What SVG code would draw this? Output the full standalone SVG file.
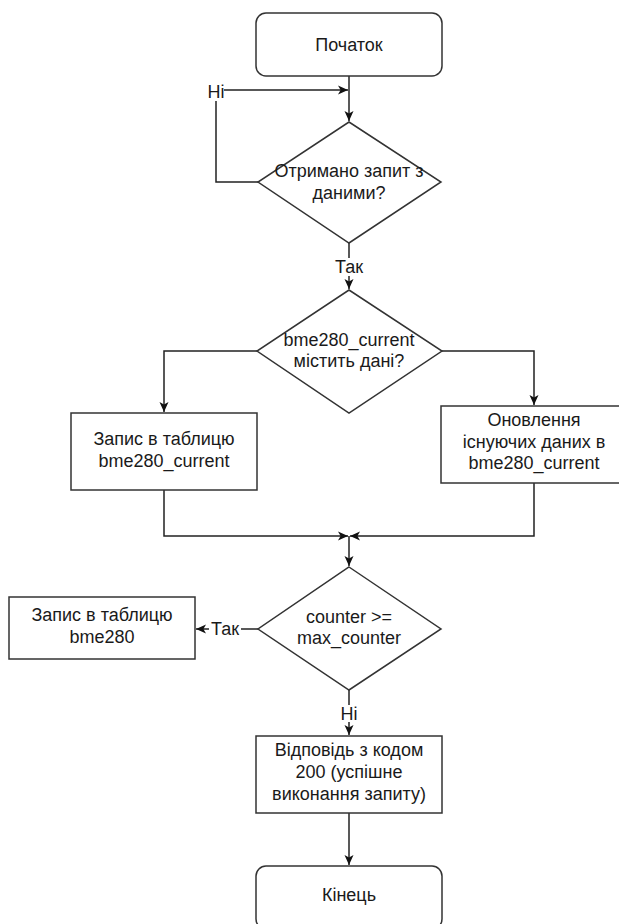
<svg xmlns="http://www.w3.org/2000/svg" width="619" height="924" viewBox="0 0 619 924">
<style>
  .shape { fill: #ffffff; stroke: #333333; stroke-width: 1.5; }
  .edge { fill: none; stroke: #222222; stroke-width: 1.5; }
  text { font-family: "Liberation Sans", Arial, sans-serif; font-size: 18px; fill: #1a1a1a; text-anchor: middle; }
  .lblbg { fill: #ffffff; stroke: none; }
</style>
<defs>
  <marker id="arr" markerUnits="userSpaceOnUse" markerWidth="11" markerHeight="10" refX="10" refY="5" orient="auto">
    <path d="M0,0.5 L10,5 L0,9.5 L2.6,5 Z" fill="#111111"/>
  </marker>
</defs>
<rect width="619" height="924" fill="#ffffff"/>

<g id="connectors">
  <path class="edge" d="M349,76 V121" marker-end="url(#arr)"/>
  <path class="edge" d="M258,182 H216 V90 H348" marker-end="url(#arr)"/>
  <path class="edge" d="M349,243 V289" marker-end="url(#arr)"/>
  <path class="edge" d="M257,351 H164 V412" marker-end="url(#arr)"/>
  <path class="edge" d="M442,351 H534 V405" marker-end="url(#arr)"/>
  <path class="edge" d="M164,490 V536 H348" marker-end="url(#arr)"/>
  <path class="edge" d="M534,483 V536 H350" marker-end="url(#arr)"/>
  <path class="edge" d="M349,536 V566" marker-end="url(#arr)"/>
  <path class="edge" d="M258,629 H196" marker-end="url(#arr)"/>
  <path class="edge" d="M349,690 V735" marker-end="url(#arr)"/>
  <path class="edge" d="M349,813 V865" marker-end="url(#arr)"/>
  <g id="labels">
    <rect class="lblbg" x="208" y="83" width="16" height="18"/>
    <text x="216" y="98">Ні</text>
    <rect class="lblbg" x="333" y="258" width="32" height="18"/>
    <text x="349" y="273">Так</text>
    <rect class="lblbg" x="209" y="621" width="32" height="17"/>
    <text x="225" y="635">Так</text>
    <rect class="lblbg" x="340" y="705" width="18" height="17"/>
    <text x="349" y="720">Ні</text>
  </g>
</g>

<g id="start">
  <rect class="shape" x="256" y="13" width="186" height="63" rx="10" ry="10"/>
  <text x="349" y="51">Початок</text>
</g>

<g id="decision-request">
  <polygon class="shape" points="349,122 441,182 349,243 258,182"/>
  <text x="349" y="177">Отримано запит з</text>
  <text x="349" y="199">даними?</text>
</g>

<g id="decision-current">
  <polygon class="shape" points="349,290 442,351 349,413 257,351"/>
  <text x="349" y="346">bme280_current</text>
  <text x="349" y="367">містить дані?</text>
</g>

<g id="insert-current">
  <rect class="shape" x="71" y="413" width="186" height="77"/>
  <text x="164" y="445">Запис в таблицю</text>
  <text x="164" y="467">bme280_current</text>
</g>

<g id="update-current">
  <rect class="shape" x="441" y="406" width="186" height="77"/>
  <text x="534" y="426">Оновлення</text>
  <text x="534" y="448">існуючих даних в</text>
  <text x="534" y="469">bme280_current</text>
</g>

<g id="decision-counter">
  <polygon class="shape" points="349,567 441,629 349,690 258,629"/>
  <text x="349" y="623">counter &gt;=</text>
  <text x="349" y="644">max_counter</text>
</g>

<g id="insert-bme280">
  <rect class="shape" x="9" y="597" width="186" height="62"/>
  <text x="102" y="621">Запис в таблицю</text>
  <text x="102" y="643">bme280</text>
</g>

<g id="response">
  <rect class="shape" x="256" y="736" width="186" height="77"/>
  <text x="349" y="756">Відповідь з кодом</text>
  <text x="349" y="778">200 (успішне</text>
  <text x="349" y="800">виконання запиту)</text>
</g>

<g id="end">
  <rect class="shape" x="256" y="866" width="186" height="63" rx="10" ry="10"/>
  <text x="349" y="901">Кінець</text>
</g>
</svg>
